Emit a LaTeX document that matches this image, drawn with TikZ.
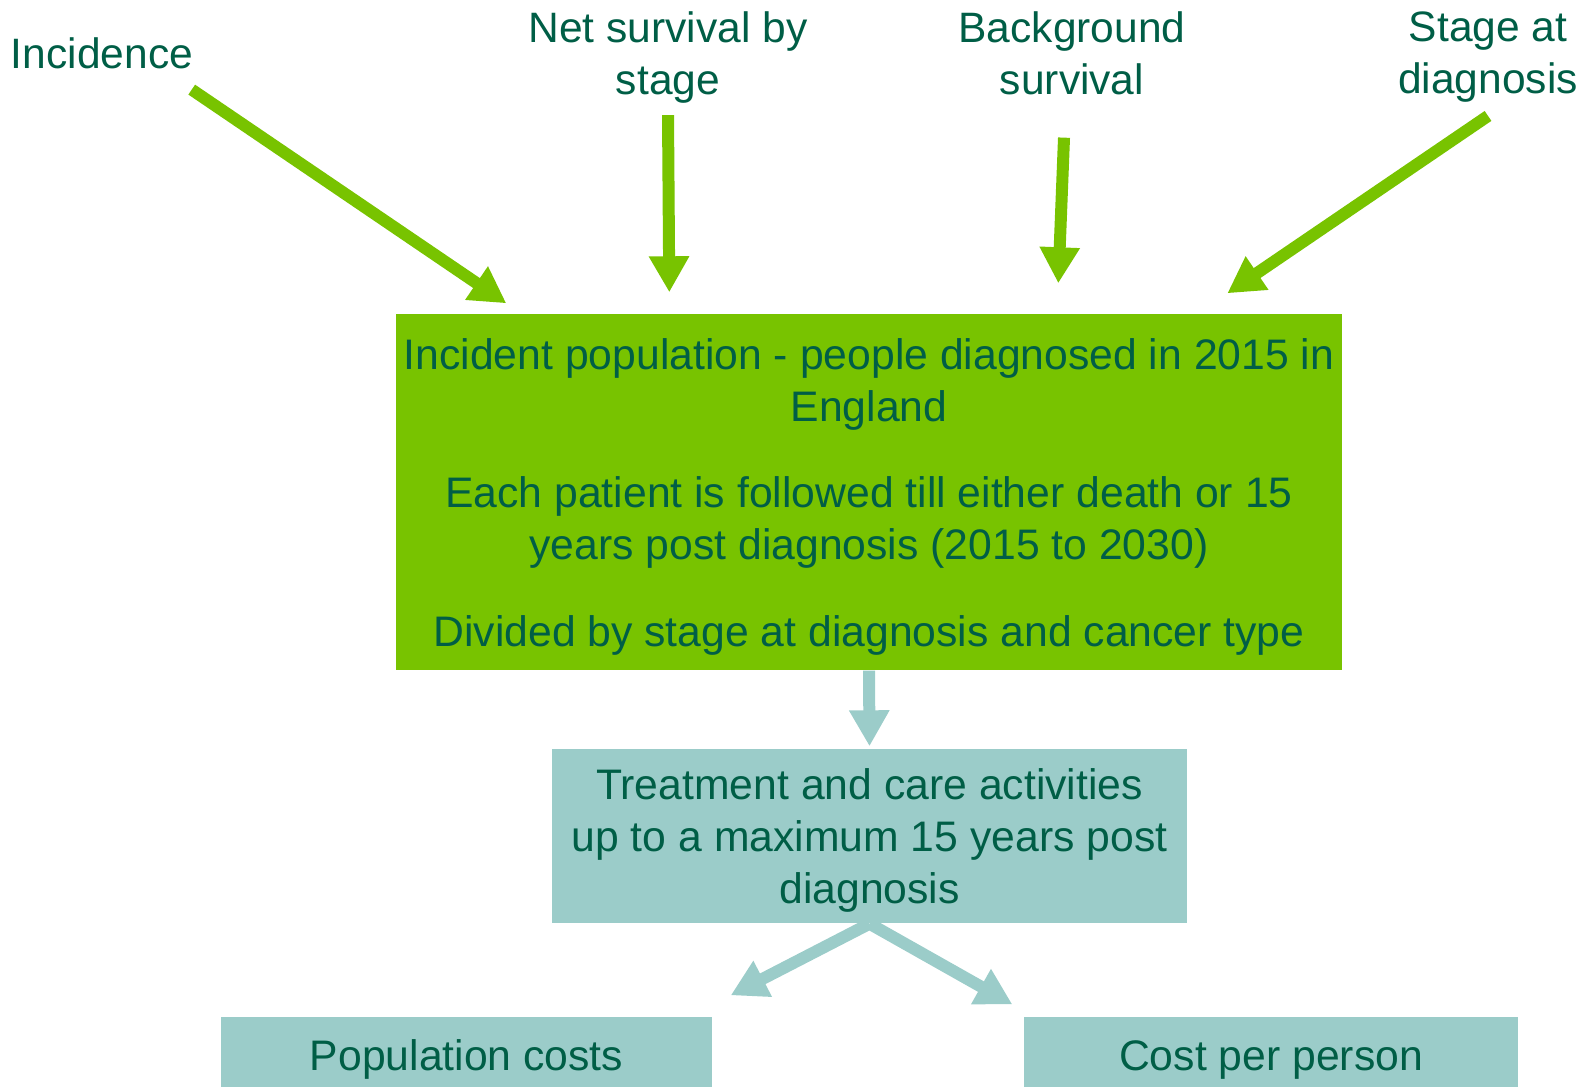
\documentclass[tikz,border=0pt]{standalone}
\usepackage{fontspec}
\setmainfont{Liberation Sans}
\usetikzlibrary{positioning,arrows.meta,calc}
\definecolor{leaf}{HTML}{78C300}
\definecolor{sea}{HTML}{9BCCC9}
\definecolor{ink}{HTML}{005E46}
\newcommand{\toppad}{\rule{0pt}{11.6pt}}
\tikzset{
  lbl/.style={inner sep=0mm, align=center, text=ink, font=\fontsize{12.1}{14.8}\selectfont
  },
  greenbox/.style={
    fill=leaf, inner sep=0mm, align=center, text=ink, font=\fontsize{12.15}{14.8}\selectfont
  },
  seabox/.style={
    fill=sea, inner sep=0mm, align=center, text=ink, font=\fontsize{12.15}{14.8}\selectfont
  },
  greenarrow/.style={
    draw=leaf, line width=1.2mm, -{Triangle[width=3.8mm,length=3.6mm]}
  },
  seaarrow/.style={
    draw=sea, line width=1.2mm, -{Triangle[width=3.8mm,length=3.6mm]}
  }
}

\begin{document}
\begin{tikzpicture}
   \useasboundingbox (0,0) rectangle (15.89,-10.86);
   \clip (0,0) rectangle (15.89,-10.86);

   \node[lbl, anchor=north] (inc) at (1.02,-0.37) {Incidence};
   \node[lbl, anchor=north] (net) at (6.68,-0.11) {Net survival by\\stage};
   \node[lbl, anchor=north] (bg) at (10.72,-0.11) {Background\\survival};
   \node[lbl, anchor=north] (stage) at (14.88,-0.11) {Stage at\\diagnosis};

   \node[greenbox, minimum width=94.6mm, minimum height=35.6mm] (pop) at (8.69,-4.92)
     {\toppad Incident population - people diagnosed in 2015 in\\England\\[9.7pt]
      Each patient is followed till either death or 15\\years post diagnosis (2015 to 2030)\\[9.7pt]
      Divided by stage at diagnosis and cancer type};
   \node[seabox, minimum width=63.5mm, minimum height=17.4mm] (treat) at (8.695,-8.36)
     {\toppad Treatment and care activities\\up to a maximum 15 years post\\diagnosis};
   \node[seabox, minimum width=49.1mm, minimum height=7.6mm] (popc) at (4.665,-10.55) {\toppad Population costs};
   \node[seabox, minimum width=49.4mm, minimum height=7.6mm] (cpp) at (12.71,-10.55) {\toppad Cost per person};

   \draw[greenarrow] ([shift={(-0.02,-0.2)}]inc.south east) -- ($(pop.north west)+(1.11,0.10)$);
   \draw[greenarrow] ([yshift=-1.1mm]net.south) -- ($(pop.north west)+(2.74,0.21)$);
   \draw[greenarrow] ([shift={(-0.08,-0.42)}]bg.south) -- ($(pop.north west)+(6.63,0.30)$);
   \draw[greenarrow] ([yshift=-1.3mm]stage.south) -- ($(pop.north west)+(8.32,0.20)$);

   \draw[seaarrow, shorten >=0.2mm] (pop.south) -- (treat.north);
   \draw[seaarrow] (treat.south) -- ($(popc.north east)+(0.18,0.21)$);
   \draw[seaarrow] (treat.south) -- ($(cpp.north west)+(-0.11,0.12)$);
\end{tikzpicture}
\end{document}
